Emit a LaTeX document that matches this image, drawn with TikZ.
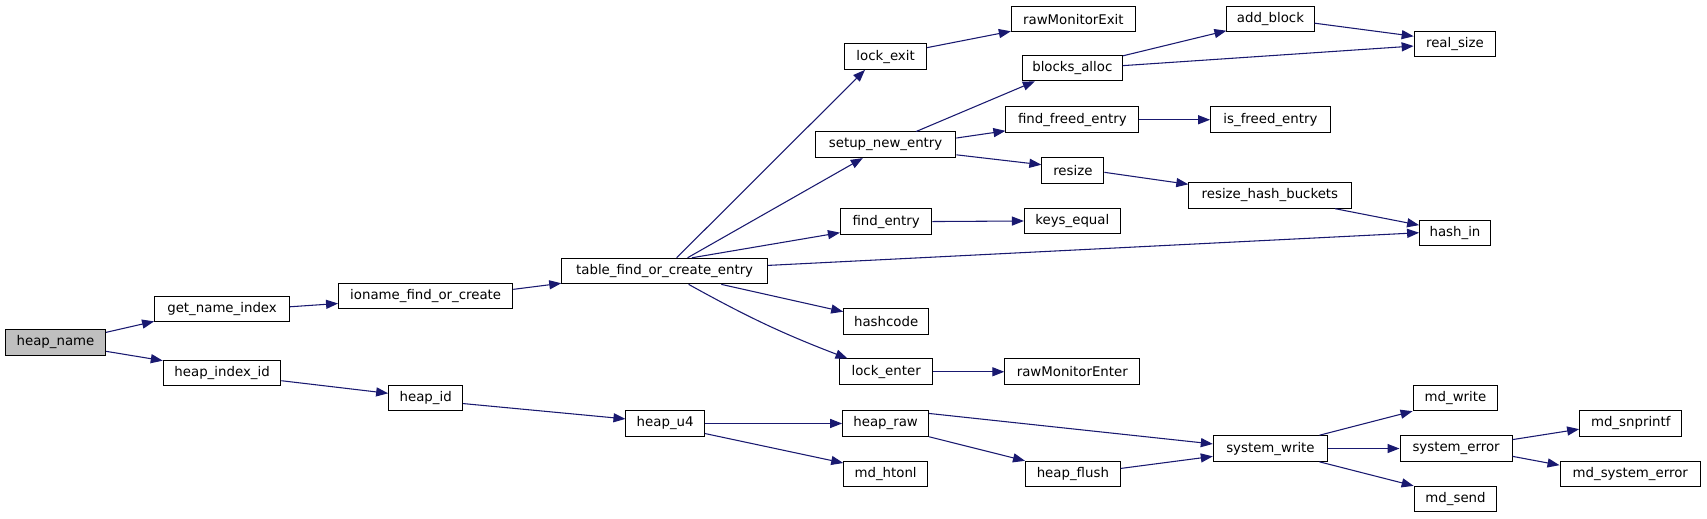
\documentclass[tikz,border=0pt]{standalone}
\usepackage{fontspec}
\setmainfont{DejaVu Sans}
\usetikzlibrary{arrows.meta,calc}
\definecolor{edgeblue}{HTML}{191970}
\definecolor{rootgray}{HTML}{BFBFBF}
\begin{document}
\begin{tikzpicture}[x=0.8165pt,y=-0.8165pt,
  fn/.style={draw=black, line width=0.75pt, fill=white, minimum height=23.5*0.8165pt,
             inner sep=0pt, font=\fontsize{10}{12}\selectfont},
  bw/.style={minimum width=#1*0.8165pt},
  call/.style={draw=edgeblue, line width=0.8pt, -{Triangle[length=9pt,width=6.8pt,fill=edgeblue]}}]
\useasboundingbox[fill=white] (0,0) rectangle (1568,476.7);
% nodes
\node[fn,bw=92,fill=rootgray] (heap_name) at (51,314.5) {heap\_name};
\node[fn,bw=124] (get_name_index) at (204,284) {get\_name\_index};
\node[fn,bw=108] (heap_index_id) at (204,342.5) {heap\_index\_id};
\node[fn,bw=160] (ioname) at (391,272) {ioname\_find\_or\_create};
\node[fn,bw=68] (heap_id) at (391,365.5) {heap\_id};
\node[fn,bw=189] (table) at (610.5,249) {table\_find\_or\_create\_entry};
\node[fn,bw=72] (heap_u4) at (611,389) {heap\_u4};
\node[fn,bw=75] (lock_exit) at (813.5,52) {lock\_exit};
\node[fn,bw=129] (setup) at (813.5,133) {setup\_new\_entry};
\node[fn,bw=84] (find_entry) at (814,203.5) {find\_entry};
\node[fn,bw=78] (hashcode) at (814,295.5) {hashcode};
\node[fn,bw=86] (lock_enter) at (814,341.5) {lock\_enter};
\node[fn,bw=79] (heap_raw) at (813.5,389) {heap\_raw};
\node[fn,bw=77] (md_htonl) at (813.5,435.5) {md\_htonl};
\node[fn,bw=114] (rawMonitorExit) at (986,17.5) {rawMonitorExit};
\node[fn,bw=92] (blocks_alloc) at (985,62.5) {blocks\_alloc};
\node[fn,bw=122] (find_freed) at (985,110) {find\_freed\_entry};
\node[fn,bw=57] (resize) at (985.5,156.5) {resize};
\node[fn,bw=88] (keys_equal) at (985,203) {keys\_equal};
\node[fn,bw=124] (rawMonitorEnter) at (985,341.5) {rawMonitorEnter};
\node[fn,bw=87] (heap_flush) at (985.5,435.5) {heap\_flush};
\node[fn,bw=80] (add_block) at (1167,17.5) {add\_block};
\node[fn,bw=110] (is_freed) at (1167,110) {is\_freed\_entry};
\node[fn,bw=149] (resize_hash) at (1166.5,179.5) {resize\_hash\_buckets};
\node[fn,bw=105] (system_write) at (1167,412) {system\_write};
\node[fn,bw=75] (real_size) at (1336.5,40.5) {real\_size};
\node[fn,bw=65] (hash_in) at (1336.5,214) {hash\_in};
\node[fn,bw=78] (md_write) at (1337,365.5) {md\_write};
\node[fn,bw=103] (system_error) at (1337.5,412) {system\_error};
\node[fn,bw=76] (md_send) at (1337,458.5) {md\_send};
\node[fn,bw=94] (md_snprintf) at (1498,389) {md\_snprintf};
\node[fn,bw=129] (md_system_error) at (1497.5,435.5) {md\_system\_error};
% edges
\draw[call] ($(heap_name.north east)+(0,3)$) -- ($(get_name_index.south west)+(0,-1)$);
\draw[call] ($(heap_name.south east)+(0,-4)$) -- ($(heap_index_id.north west)+(0,1)$);
\draw[call] ($(get_name_index.north east)+(0,10)$) -- ($(ioname.north west)+(0,19)$);
\draw[call] ($(ioname.north east)+(0,6)$) -- ($(table.south west)+(0,-1)$);
\draw[call] ($(heap_index_id.south east)+(0,-5)$) -- ($(heap_id.north west)+(0,8)$);
\draw[call] ($(heap_id.south east)+(0,-7)$) -- ($(heap_u4.north west)+(0,8)$);
\draw[call] ($(table.north west)+(106,0)$) -- ($(lock_exit.south west)+(19,0)$);
\draw[call] ($(table.north west)+(116,0)$) -- ($(setup.south west)+(44,0)$);
\draw[call] ($(table.north west)+(120,0)$) -- ($(find_entry.south west)+(0,-2)$);
\draw[call] ($(table.north east)+(0,7)$) -- ($(hash_in.north west)+(0,12)$);
\draw[call] ($(table.south west)+(147,0)$) -- ($(hashcode.north west)+(0,3)$);
\draw[call] ($(table.south west)+(117,0)$) to[bend right=4] ($(lock_enter.north west)+(8,0)$);
\draw[call] ($(lock_exit.north east)+(0,4)$) -- ($(rawMonitorExit.south west)+(0,-1)$);
\draw[call] ($(setup.north west)+(93,0)$) -- ($(blocks_alloc.south west)+(12,0)$);
\draw[call] ($(setup.north east)+(0,6)$) -- ($(find_freed.south west)+(0,-2)$);
\draw[call] ($(setup.south east)+(0,-3)$) -- ($(resize.north west)+(0,7)$);
\draw[call] (find_entry.east) -- (keys_equal.west);
\draw[call] (lock_enter.east) -- (rawMonitorEnter.west);
\draw[call] ($(blocks_alloc.north east)+(0,1)$) -- ($(add_block.south west)+(0,-1.5)$);
\draw[call] ($(blocks_alloc.north east)+(0,10)$) -- ($(real_size.north west)+(0,14)$);
\draw[call] ($(add_block.north east)+(0,16)$) -- ($(real_size.north west)+(0,5)$);
\draw[call] (find_freed.east) -- (is_freed.west);
\draw[call] ($(resize.north east)+(0,14)$) -- ($(resize_hash.north west)+(0,2)$);
\draw[call] ($(resize_hash.south east)+(-15,0)$) -- ($(hash_in.north west)+(0,5)$);
\draw[call] (heap_u4.east) -- (heap_raw.west);
\draw[call] ($(heap_u4.south east)+(0,-3)$) -- ($(md_htonl.north west)+(0,2)$);
\draw[call] ($(heap_raw.north east)+(0,3)$) -- ($(system_write.north west)+(0,8)$);
\draw[call] (heap_raw.south east) -- (heap_flush.north west);
\draw[call] ($(heap_flush.north east)+(0,7)$) -- ($(system_write.south west)+(0,-5)$);
\draw[call] ($(system_write.north east)+(-8,0)$) -- (md_write.south west);
\draw[call] (system_write.east) -- (system_error.west);
\draw[call] ($(system_write.south east)+(-8,0)$) -- (md_send.north west);
\draw[call] ($(system_error.north east)+(0,4)$) -- ($(md_snprintf.south west)+(0,-7)$);
\draw[call] ($(system_error.south east)+(0,-5)$) -- ($(md_system_error.north west)+(0,4)$);
\end{tikzpicture}
\end{document}
